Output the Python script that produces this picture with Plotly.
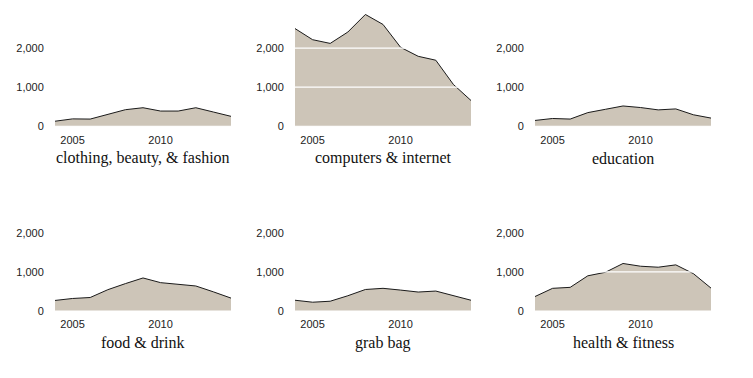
import plotly.graph_objects as go
from plotly.subplots import make_subplots

years = list(range(2004, 2015))
categories = ["clothing, beauty, & fashion", "computers & internet", "education",
              "food & drink", "grab bag", "health & fitness"]
clothing = [130, 190, 185, 300, 425, 475, 390, 390, 475, 365, 255]
computers = [2500, 2215, 2120, 2410, 2860, 2605, 2020, 1790, 1690, 1070, 660]
education = [150, 200, 185, 350, 435, 520, 480, 420, 445, 295, 210]
food = [270, 320, 345, 545, 700, 845, 725, 690, 640, 490, 330]
grabbag = [275, 225, 250, 390, 550, 580, 535, 485, 510, 390, 275]
health = [370, 580, 605, 900, 990, 1215, 1145, 1120, 1180, 955, 585]
series = [clothing, computers, education, food, grabbag, health]
ytickvals = [0, 1000, 2000]
xtickvals = [2005, 2010]

OFF = 8  # browser default body margin
W, H = 753 - OFF, 378 - OFF
fig = make_subplots(rows=2, cols=3)

# pixel geometry (page coordinates)
col_x = [(55, 231), (295, 471), (535, 711)]
row_y = [(8.5, 126), (193.5, 311)]
top_px, bot_px = 8.5, 311
left_px, right_px = 55, 711
pw = right_px - left_px
ph = bot_px - top_px

fill = "#cdc5b8"
for i, (name, vals) in enumerate(zip(categories, series)):
    r, c = divmod(i, 3)
    fig.add_trace(go.Scatter(x=years, y=vals, mode="lines", fill="tozeroy",
                             fillcolor=fill, line=dict(color="#1a1a1a", width=1),
                             showlegend=False, hoverinfo="skip"), row=r + 1, col=c + 1)
    idx = "" if i == 0 else str(i + 1)
    x0, x1 = col_x[c]
    y0, y1 = row_y[r]
    fig.layout["xaxis" + idx].domain = [(x0 - left_px) / pw, (x1 - left_px) / pw]
    fig.layout["yaxis" + idx].domain = [(bot_px - y1) / ph, (bot_px - y0) / ph]
    for gv in ytickvals:
        fig.add_shape(type="line", xref="x" + idx, yref="y" + idx,
                      x0=years[0], x1=years[-1], y0=gv, y1=gv,
                      line=dict(color="white", width=1.2), layer="above")
    fig.add_annotation(text=name, xref="paper", yref="paper",
                       x=((x0 + x1) / 2 - left_px) / pw,
                       y=(bot_px - (y1 + 32)) / ph, xanchor="center", yanchor="middle",
                       showarrow=False,
                       font=dict(family="Liberation Serif", size=16, color="#111"))

fig.update_xaxes(range=[2004, 2014], tickvals=xtickvals, showgrid=False, zeroline=False,
                 showline=False, ticks="outside", ticklen=3, tickcolor="rgba(0,0,0,0)",
                 automargin=False,
                 tickfont=dict(family="Liberation Sans", size=11, color="#222"))
fig.update_yaxes(range=[0, 3000], tickvals=ytickvals, tickformat=",", showgrid=False,
                 zeroline=False, showline=False, ticks="outside", ticklen=8,
                 tickcolor="rgba(0,0,0,0)", automargin=False,
                 tickfont=dict(family="Liberation Sans", size=11, color="#222"))

fig.update_layout(width=W, height=H, plot_bgcolor="white", paper_bgcolor="white",
                  margin=dict(l=left_px - OFF, r=753 - right_px, t=top_px - OFF,
                              b=378 - bot_px))
fig.write_html("out.html")
